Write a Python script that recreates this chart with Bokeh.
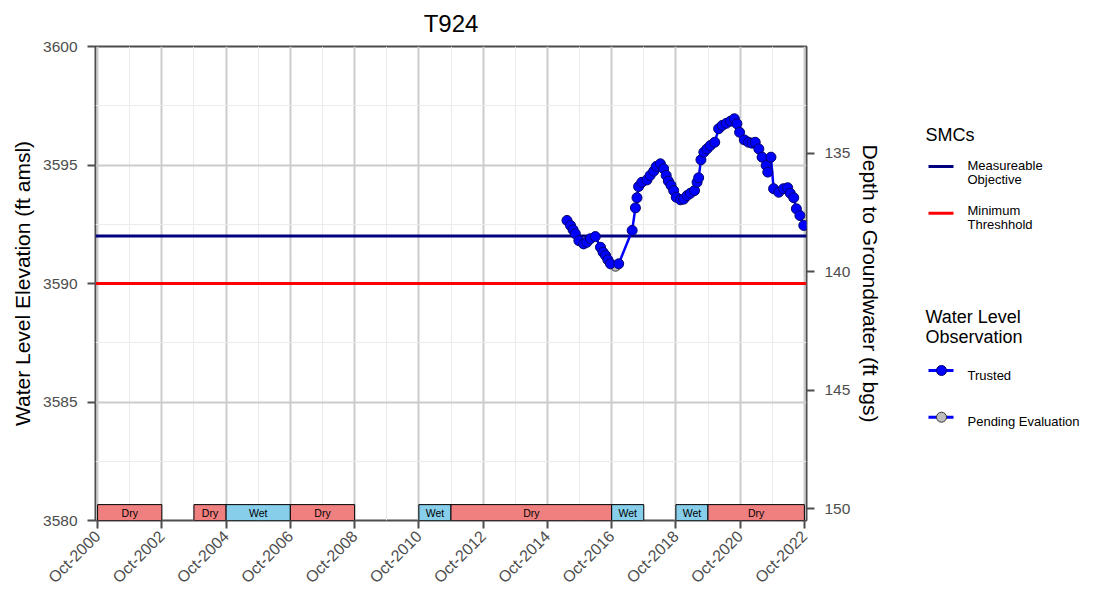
import math
import pandas as pd
from bokeh.plotting import figure
from bokeh.models import Range1d, LinearAxis, FixedTicker, Span, ColumnDataSource
from bokeh.layouts import row
from bokeh.embed import file_html
from bokeh.resources import INLINE
from bokeh.core.properties import value

# ---------------- data ----------------
TITLE = "T924"
Y_LABEL = "Water Level Elevation (ft amsl)"
Y2_LABEL = "Depth to Groundwater (ft bgs)"

trusted_dates = [
    "2015-05-12", "2015-06-21", "2015-07-20", "2015-08-15", "2015-09-24", "2015-11-17",
    "2015-12-24", "2016-02-03", "2016-03-29", "2016-05-27", "2016-06-25", "2016-07-24",
    "2016-08-19", "2016-09-17", "2016-12-20", "2017-05-22", "2017-06-28", "2017-07-16",
    "2017-08-03", "2017-09-09", "2017-11-06", "2017-12-12", "2018-01-22", "2018-02-20",
    "2018-04-08", "2018-05-15", "2018-06-13", "2018-07-08", "2018-08-07", "2018-09-06",
    "2018-10-05", "2018-11-22", "2018-12-28", "2019-02-06", "2019-03-15", "2019-05-01",
    "2019-05-30", "2019-06-17", "2019-07-13", "2019-08-15", "2019-09-20", "2019-10-27",
    "2019-12-17", "2020-01-30", "2020-03-11", "2020-04-27", "2020-06-14", "2020-07-27",
    "2020-08-25", "2020-09-24", "2020-11-17", "2021-01-04", "2021-02-13", "2021-03-21",
    "2021-05-01", "2021-06-07", "2021-07-24", "2021-08-11", "2021-09-16", "2021-10-16",
    "2021-12-13", "2022-02-06", "2022-03-25", "2022-04-23", "2022-06-02", "2022-07-02",
    "2022-08-11", "2022-09-24",
]
trusted_elev = [
    3592.66, 3592.45, 3592.27, 3592.10, 3591.81, 3591.67,
    3591.74, 3591.89, 3591.98, 3591.53, 3591.32, 3591.18,
    3591.00, 3590.83, 3590.83, 3592.24, 3593.19, 3593.62,
    3594.09, 3594.27, 3594.37, 3594.56, 3594.74, 3594.94,
    3595.05, 3594.84, 3594.56, 3594.32, 3594.14, 3593.92,
    3593.64, 3593.53, 3593.56, 3593.71, 3593.81, 3593.92,
    3594.27, 3594.46, 3595.22, 3595.54, 3595.68, 3595.82,
    3595.96, 3596.53, 3596.67, 3596.76, 3596.85, 3596.95,
    3596.74, 3596.38, 3596.06, 3595.96, 3595.92, 3595.96,
    3595.68, 3595.33, 3594.98, 3594.70, 3595.33, 3594.00,
    3593.85, 3594.00, 3594.04, 3593.81, 3593.62, 3593.15,
    3592.87, 3592.45,
]
pending_dates = ["2016-11-14"]
pending_elev = [3590.73]

mo_value = 3592.0          # Measureable Objective
mt_value = 3590.0          # Minimum Threshhold
ground_surface = 3730.5    # depth = ground_surface - elevation

period_start = ["2000-10-01", "2003-10-01", "2004-10-01", "2006-10-01", "2010-10-01",
                "2011-10-01", "2016-10-01", "2018-10-01", "2019-10-01"]
period_end = ["2002-10-01", "2004-10-01", "2006-10-01", "2008-10-01", "2011-10-01",
              "2016-10-01", "2017-10-01", "2019-10-01", "2022-10-01"]
period_type = ["Dry", "Dry", "Wet", "Dry", "Wet", "Dry", "Wet", "Wet", "Dry"]

x_tick_dates = ["2000-10-01", "2002-10-01", "2004-10-01", "2006-10-01", "2008-10-01",
                "2010-10-01", "2012-10-01", "2014-10-01", "2016-10-01", "2018-10-01",
                "2020-10-01", "2022-10-01"]
x_tick_labels = ["Oct-2000", "Oct-2002", "Oct-2004", "Oct-2006", "Oct-2008", "Oct-2010",
                 "Oct-2012", "Oct-2014", "Oct-2016", "Oct-2018", "Oct-2020", "Oct-2022"]
y_ticks = [3580, 3585, 3590, 3595, 3600]
y2_ticks = [135, 140, 145, 150]

# ---------------- helpers ----------------
EPOCH = pd.Timestamp("1970-01-01")


def to_ms(d):
    return (pd.Timestamp(d) - EPOCH).total_seconds() * 1000.0


FONT = "Liberation Sans"
DRY_COLOR = "#F08080"
WET_COLOR = "#87CEEB"
GRID_MAJOR = "#CCCCCC"
GRID_MINOR = "#EBEBEB"
AXIS_GREY = "#4D4D4D"

y_min, y_max = y_ticks[0], y_ticks[-1]
pad_ms = 24 * 86400000.0
x_start = to_ms(x_tick_dates[0]) - pad_ms
x_end = to_ms(x_tick_dates[-1]) + pad_ms

# frame placement (page pixels)
FR_LEFT, FR_RIGHT, FR_TOP, FR_BOTTOM = 95, 806, 46, 520
W_MAIN, H = 910, 596
W_LEG = 176

p = figure(width=W_MAIN, height=H, x_axis_type="datetime",
           x_range=Range1d(x_start, x_end), y_range=Range1d(y_min, y_max),
           output_backend="svg", toolbar_location=None,
           min_border_left=FR_LEFT, min_border_right=W_MAIN - FR_RIGHT,
           min_border_top=FR_TOP, min_border_bottom=H - FR_BOTTOM)
p.extra_y_ranges = {"depth": Range1d(ground_surface - y_min, ground_surface - y_max)}

# title
p.title.text = TITLE
p.title.align = "center"
p.title.vertical_align = "top"
p.title.text_font = FONT
p.title.text_font_size = "24px"
p.title.text_font_style = "normal"
p.title.text_color = "black"
p.title.standoff = 16

p.background_fill_color = "white"
p.border_fill_color = "white"
p.outline_line_color = AXIS_GREY
p.outline_line_width = 2

# ticks / grids
major_x = [to_ms(d) for d in x_tick_dates]
minor_x = [(a + b) / 2 for a, b in zip(major_x[:-1], major_x[1:])]
p.xaxis.ticker = FixedTicker(ticks=major_x, minor_ticks=minor_x)
p.xaxis.major_label_overrides = {t: lab for t, lab in zip(major_x, x_tick_labels)}
p.xaxis.major_label_orientation = math.pi / 4

minor_y = [(a + b) / 2 for a, b in zip(y_ticks[:-1], y_ticks[1:])]
p.yaxis.ticker = FixedTicker(ticks=y_ticks, minor_ticks=minor_y)
p.yaxis.axis_label = Y_LABEL

for g in (p.xgrid[0], p.ygrid[0]):
    g.grid_line_color = GRID_MAJOR
    g.grid_line_width = 2
    g.minor_grid_line_color = GRID_MINOR
    g.minor_grid_line_width = 1

ax2 = LinearAxis(y_range_name="depth", ticker=FixedTicker(ticks=y2_ticks),
                 axis_label=Y2_LABEL)
p.add_layout(ax2, "right")

for ax in (p.xaxis[0], p.yaxis[0], ax2):
    ax.axis_line_color = None
    ax.major_tick_line_color = AXIS_GREY
    ax.major_tick_line_width = 2
    ax.major_tick_out = 8
    ax.major_tick_in = 0
    ax.minor_tick_line_color = None
    ax.major_label_text_font = FONT
    ax.major_label_text_font_size = "15.5px"
    ax.major_label_text_color = AXIS_GREY
    ax.major_label_standoff = 7
    ax.axis_label_text_font = FONT
    ax.axis_label_text_font_size = "21px"
    ax.axis_label_text_font_style = "normal"
    ax.axis_label_text_color = "black"
    ax.axis_label_standoff = 8

p.xaxis.major_label_text_font_size = "16px"
p.xaxis.major_label_standoff = 5
p.yaxis.major_label_standoff = 10
p.yaxis.axis_label_standoff = 6

# SMC lines
p.add_layout(Span(location=mo_value, dimension="width", line_color="#000080",
                  line_width=3, level="underlay"))
p.add_layout(Span(location=mt_value, dimension="width", line_color="#FF0000",
                  line_width=3, level="underlay"))

# wet / dry bars
bar_top = y_min + 0.67
bars = ColumnDataSource(dict(
    left=[to_ms(d) for d in period_start],
    right=[to_ms(d) for d in period_end],
    mid=[(to_ms(a) + to_ms(b)) / 2 for a, b in zip(period_start, period_end)],
    kind=period_type,
    color=[DRY_COLOR if k == "Dry" else WET_COLOR for k in period_type],
))
p.quad(left="left", right="right", bottom=y_min, top=bar_top, fill_color="color",
       line_color="black", line_width=1, source=bars)
p.text(x="mid", y=(y_min + bar_top) / 2, text="kind", source=bars,
       text_font=value(FONT), text_font_size=value("10.5px"),
       text_align="center", text_baseline="middle", text_color="black")

# observations
all_obs = sorted(
    [(pd.Timestamp(d), e) for d, e in zip(trusted_dates, trusted_elev)] +
    [(pd.Timestamp(d), e) for d, e in zip(pending_dates, pending_elev)])
p.line([a for a, _ in all_obs], [b for _, b in all_obs], line_color="#0000FF", line_width=2.5)
p.scatter(pd.to_datetime(pending_dates), pending_elev, size=10, fill_color="#BEBEBE",
          line_color="#333333", line_width=1)
p.scatter(pd.to_datetime(trusted_dates), trusted_elev, size=10, fill_color="#0000FF",
          line_color="#00006E", line_width=1)

# ---------------- legend panel (coordinates = page pixels) ----------------
leg = figure(width=W_LEG, height=H, title=None,
             x_range=Range1d(W_MAIN, W_MAIN + W_LEG),
             y_range=Range1d(FR_BOTTOM, FR_TOP), output_backend="svg",
             toolbar_location=None, min_border_left=0, min_border_right=0,
             min_border_top=FR_TOP, min_border_bottom=H - FR_BOTTOM)
leg.axis.visible = False
leg.grid.visible = False
leg.outline_line_color = None
leg.background_fill_color = "white"
leg.border_fill_color = "white"

dy = -5
leg.text(x=[925, 925, 925], y=[139 + dy, 321.5 + dy, 341 + dy],
         text=["SMCs", "Water Level", "Observation"],
         text_font=value(FONT), text_font_size=value("18px"), text_baseline="alphabetic",
         text_color="black")
leg.text(x=[967] * 6, y=[v + dy for v in (170, 184, 215, 229, 380, 426)],
         text=["Measureable", "Objective", "Minimum", "Threshhold", "Trusted",
               "Pending Evaluation"],
         text_font=value(FONT), text_font_size=value("13px"), text_baseline="alphabetic",
         text_color="black")
leg.segment(x0=[928, 928], x1=[953, 953], y0=[171 + dy, 217.7 + dy], y1=[171 + dy, 217.7 + dy],
            line_color=["#000080", "#FF0000"], line_width=3)
leg.segment(x0=[928, 928], x1=[953, 953], y0=[375 + dy, 421.7 + dy], y1=[375 + dy, 421.7 + dy],
            line_color="#0000FF", line_width=3)
leg.scatter([941], [375 + dy], size=10, fill_color="#0000FF", line_color="#00006E")
leg.scatter([941], [421.7 + dy], size=10, fill_color="#BEBEBE", line_color="#333333")

layout = row(p, leg)
open("out.html", "w").write(file_html(layout, INLINE))
